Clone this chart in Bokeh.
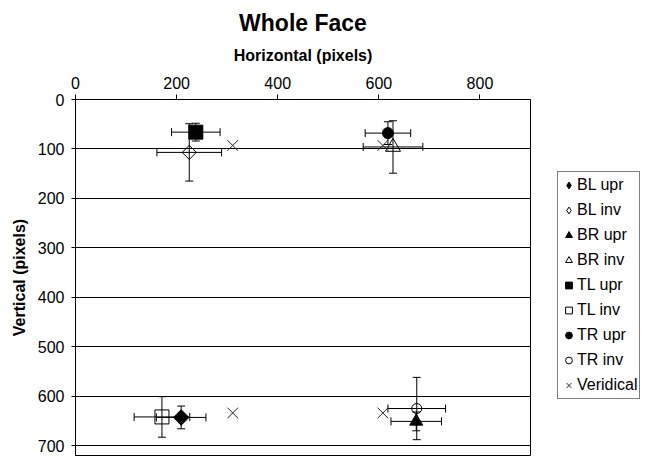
from bokeh.plotting import figure
from bokeh.models import (Range1d, FixedTicker, Whisker, TeeHead, ColumnDataSource,
                          Legend, LegendItem)
from bokeh.embed import file_html
from bokeh.resources import INLINE
import math

# ---- data ----
series_names = ["BL upr", "BL inv", "BR upr", "BR inv", "TL upr", "TL inv", "TR upr", "TR inv"]
x_vals = [209, 225, 674, 628, 238, 171, 618, 675]
y_vals = [643, 107, 651, 96, 66, 642, 68, 625]
x_errs = [49, 64, 50, 59, 48, 55, 45, 57]
y_errs = [23, 58, 19, 53, 18, 41, 23, 63]

veridical_x = [311, 608, 311, 608]
veridical_y = [93, 93, 634, 634]

x_ticks = [0, 200, 400, 600, 800]
y_ticks = [0, 100, 200, 300, 400, 500, 600, 700]

FONT = "Liberation Sans"

p = figure(frame_width=455, frame_height=356, x_range=Range1d(0, 900), y_range=Range1d(720, 0),
           output_backend="svg", toolbar_location=None, x_axis_location="above",
           min_border_left=75, min_border_right=110, min_border_top=98, min_border_bottom=2)

p.title.text = "Whole Face"
p.title.align = "center"
p.title.text_font = FONT
p.title.text_font_size = "23px"
p.title.text_font_style = "bold"
p.title.text_color = "black"
p.title.text_line_height = 1.0
p.title.standoff = 15

for ax in (p.xaxis[0], p.yaxis[0]):
    ax.axis_label_text_font = FONT
    ax.axis_label_text_font_size = "16px"
    ax.axis_label_text_font_style = "bold"
    ax.axis_label_text_color = "black"
    ax.major_label_text_font = FONT
    ax.major_label_text_font_size = "16px"
    ax.major_label_text_color = "black"
    ax.axis_line_color = "black"
    ax.major_tick_line_color = "black"
    ax.minor_tick_line_color = None

p.xaxis.axis_label = "Horizontal (pixels)"
p.yaxis.axis_label = "Vertical (pixels)"
p.xaxis.ticker = FixedTicker(ticks=x_ticks)
p.yaxis.ticker = FixedTicker(ticks=y_ticks)
p.xaxis.major_tick_in = 0
p.xaxis.major_tick_out = 5
p.yaxis.major_tick_in = 4
p.yaxis.major_tick_out = 4
p.xaxis.major_label_standoff = 6
p.yaxis.major_label_standoff = 7
p.xaxis.axis_label_standoff = 10
p.yaxis.axis_label_standoff = 7

p.xgrid.visible = False
p.ygrid.ticker = FixedTicker(ticks=y_ticks[1:])
p.ygrid.grid_line_color = "black"
p.ygrid.grid_line_width = 1
p.outline_line_color = "black"
p.outline_line_width = 1
p.background_fill_color = "white"

# error bars
src = ColumnDataSource(dict(
    x=x_vals, y=y_vals,
    xl=[a - b for a, b in zip(x_vals, x_errs)], xu=[a + b for a, b in zip(x_vals, x_errs)],
    yl=[a - b for a, b in zip(y_vals, y_errs)], yu=[a + b for a, b in zip(y_vals, y_errs)],
))
wh = Whisker(base="y", lower="xl", upper="xu", dimension="width", source=src,
             line_color="black", line_width=1,
             lower_head=TeeHead(size=8, line_color="black", line_width=1),
             upper_head=TeeHead(size=8, line_color="black", line_width=1))
wv = Whisker(base="x", lower="yl", upper="yu", dimension="height", source=src,
             line_color="black", line_width=1,
             lower_head=TeeHead(size=8, line_color="black", line_width=1),
             upper_head=TeeHead(size=8, line_color="black", line_width=1))
p.add_layout(wh)
p.add_layout(wv)

styles = {
    "BL upr": dict(marker="square", size=11, angle=math.pi / 4, fill_color="black", fill_alpha=1, legend_marker="diamond"),
    "BL inv": dict(marker="square", size=10, angle=math.pi / 4, fill_color="white", fill_alpha=0, legend_marker="diamond"),
    "BR upr": dict(marker="triangle", size=13, angle=0, fill_color="black", fill_alpha=1, legend_marker=None),
    "BR inv": dict(marker="triangle", size=15, angle=0, fill_color="white", fill_alpha=0, legend_marker=None),
    "TL upr": dict(marker="square", size=14, angle=0, fill_color="black", fill_alpha=1, legend_marker=None),
    "TL inv": dict(marker="square", size=14, angle=0, fill_color="white", fill_alpha=0, legend_marker=None),
    "TR upr": dict(marker="circle", size=11, angle=0, fill_color="black", fill_alpha=1, legend_marker=None),
    "TR inv": dict(marker="circle", size=10, angle=0, fill_color="white", fill_alpha=0, legend_marker=None),
}

items = []
for i, name in enumerate(series_names):
    st = styles[name]
    r = p.scatter(x=[x_vals[i]], y=[y_vals[i]], marker=st["marker"], size=st["size"],
                  angle=st["angle"], fill_color=st["fill_color"], fill_alpha=st["fill_alpha"],
                  line_color="black", line_width=1)
    if st["legend_marker"] is not None:
        # legend key: upright diamond, drawn at zero size on the plot itself
        r = p.scatter(x=[x_vals[i]], y=[y_vals[i]], marker=st["legend_marker"], size=0,
                      fill_color=st["fill_color"], fill_alpha=st["fill_alpha"],
                      line_color="black", line_width=1)
    items.append(LegendItem(label=name, renderers=[r]))

rv = p.scatter(x=veridical_x, y=veridical_y, marker="x", size=15, line_color="#222222", line_width=1)
items.append(LegendItem(label="Veridical", renderers=[rv]))

legend = Legend(items=items, location=(27, 56))
legend.label_text_font = FONT
legend.label_text_font_size = "16px"
legend.label_text_color = "black"
legend.glyph_width = 17
legend.glyph_height = 22
legend.label_height = 22
legend.spacing = 3
legend.padding = 2
legend.margin = 0
legend.label_standoff = 0
legend.border_line_color = "black"
legend.border_line_width = 1
legend.background_fill_color = "white"
legend.background_fill_alpha = 1
p.add_layout(legend, "right")

open("out.html", "w").write(file_html(p, INLINE))
